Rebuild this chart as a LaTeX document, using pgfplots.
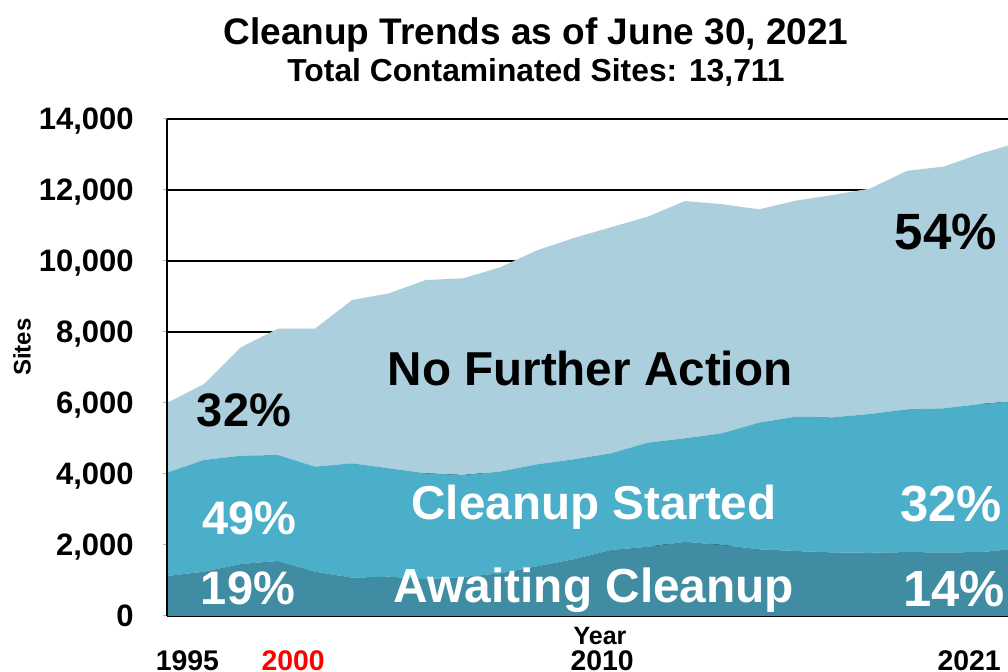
\documentclass[border=0pt]{standalone}
\usepackage{pgfplots}
\pgfplotsset{compat=1.18}
\usepackage{fontspec}
\setmainfont{Liberation Sans}
\definecolor{nfa}{HTML}{ABCFDD}
\definecolor{csc}{HTML}{4BAFCA}
\definecolor{acc}{HTML}{3F8CA3}
\definecolor{dashred}{HTML}{C0504D}
\newcommand{\fs}[1]{\fontsize{#1}{#1}\selectfont\bfseries}
\begin{document}
\begin{tikzpicture}
\useasboundingbox (0,0) rectangle (504pt,336pt);
\clip (0,0) rectangle (504pt,336pt);
\begin{axis}[
  at={(83.5pt,28pt)}, anchor=south west,
  scale only axis, width=425.5pt, height=248.5pt,
  xmin=1995, xmax=2018, ymin=0, ymax=14000,
  clip=false,
  stack plots=y,
  axis line style={draw=none},
  ymajorgrids, grid style={black, line width=0.9pt},
  ytick={0,2000,...,14000},
  scaled y ticks=false,
  /pgf/number format/assume math mode=true,
  /pgf/number format/1000 sep={,},
  tick align=outside, major tick length=2pt,
  ytick style={draw=gray!60, line width=0.5pt},
  xtick style={draw=none},
  yticklabel style={font=\fs{15.5}, anchor=base east, inner sep=0pt, xshift=-14.5pt, yshift=-5.5pt},
  xtick={1995.55,1998.41,2006.76,2016.68},
  xticklabels={1995,\textcolor{red}{2000},2010,2021},
  xticklabel style={font=\fs{14.2}, anchor=base, inner sep=0pt, yshift=-25.3pt},
  xlabel={Year},
  xlabel style={font=\fs{12.5}, at={(axis description cs:0.5088,-0.0565)}, anchor=base, inner sep=0pt},
  ylabel={Sites},
  ylabel style={font=\fs{12}, at={(axis description cs:-0.1704,0.541)}, anchor=center, inner sep=0pt},
]
\draw[black, line width=1pt] (axis cs:1995,0) -- (axis cs:1995,14000);
\addplot[fill=acc, draw=none] coordinates {
(1995,1127) (1996,1248) (1997,1465) (1998,1549) (1999,1248) (2000,1080)
(2001,1108) (2002,1034) (2003,1100) (2004,1200) (2005,1400) (2006,1600)
(2007,1860) (2008,1950) (2009,2090) (2010,2000) (2011,1880) (2012,1830)
(2013,1790) (2014,1780) (2015,1800) (2016,1790) (2017,1800) (2018,1900)
} \closedcycle;
\addplot[fill=csc, draw=none] coordinates {
(1995,2910) (1996,3146) (1997,3051) (1998,2986) (1999,2958) (2000,3220)
(2001,3052) (2002,2985) (2003,2872) (2004,2866) (2005,2872) (2006,2813)
(2007,2722) (2008,2933) (2009,2915) (2010,3146) (2011,3566) (2012,3785)
(2013,3806) (2014,3910) (2015,4022) (2016,4060) (2017,4172) (2018,4160)
} \closedcycle;
\addplot[fill=nfa, draw=none] coordinates {
(1995,1963) (1996,2141) (1997,3054) (1998,3558) (1999,3887) (2000,4600)
(2001,4930) (2002,5446) (2003,5538) (2004,5754) (2005,6028) (2006,6237)
(2007,6368) (2008,6367) (2009,6685) (2010,6454) (2011,6009) (2012,6085)
(2013,6264) (2014,6350) (2015,6718) (2016,6810) (2017,7058) (2018,7270)
} \closedcycle;
\draw[dashred, line width=1pt, dash pattern=on 4pt off 2.5pt] (axis cs:1998.71,0) -- (axis cs:1998.71,8093);
\draw[black, line width=1pt] (axis cs:1995,0) -- (axis cs:2018,0);
\end{axis}
\node[anchor=base, inner sep=0pt, font=\fs{18.5}] at (268pt,313.5pt) {Cleanup Trends as of June 30, 2021};
\node[anchor=base, inner sep=0pt, font=\fs{15.9}] at (268pt,295pt) {Total Contaminated Sites: 13,711};
\node[anchor=base, inner sep=0pt, font=\fs{23.5}] at (122pt,122.5pt) {32\%};
\node[anchor=base, inner sep=0pt, font=\fs{23.8}] at (295pt,143pt) {No Further Action};
\node[anchor=base, inner sep=0pt, font=\fs{25.5}] at (473pt,211pt) {54\%};
\node[anchor=base, inner sep=0pt, font=\fs{23.8}, white] at (297pt,76pt) {Cleanup Started};
\node[anchor=base, inner sep=0pt, font=\fs{23.5}, white] at (124.85pt,68.5pt) {49\%};
\node[anchor=base, inner sep=0pt, font=\fs{25.4}, white] at (475.5pt,75pt) {32\%};
\node[anchor=base, inner sep=0pt, font=\fs{23.9}, white] at (297pt,34.5pt) {Awaiting Cleanup};
\node[anchor=base, inner sep=0pt, font=\fs{23.5}, white] at (124pt,33.5pt) {19\%};
\node[anchor=base, inner sep=0pt, font=\fs{25.4}, white] at (477pt,32.5pt) {14\%};
\end{tikzpicture}
\end{document}
